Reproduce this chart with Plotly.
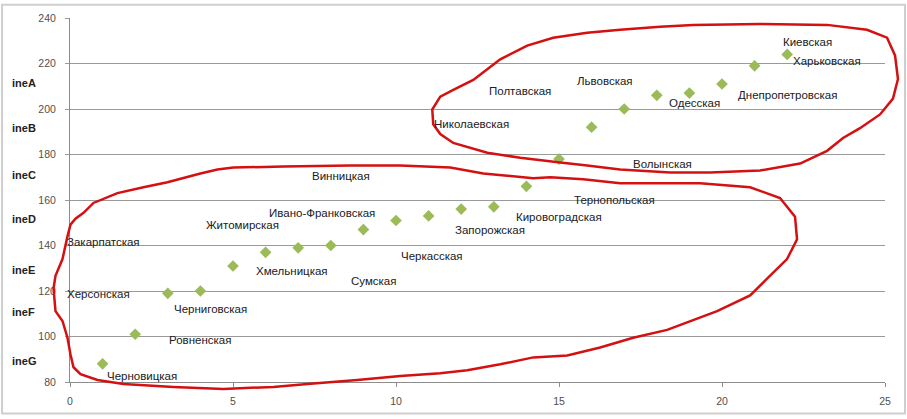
import plotly.graph_objects as go

# ---- data ----
x_idx = list(range(1, 23))
values = [88, 101, 119, 120, 131, 137, 139, 140, 147, 151, 153, 156, 157, 166, 178,
          192, 200, 206, 207, 211, 219, 224]
regions = ["Черновицкая", "Ровненская", "Херсонская", "Черниговская", "Закарпатская",
           "Хмельницкая", "Житомирская", "Сумская", "Ивано-Франковская", "Черкасская",
           "Запорожская", "Винницкая", "Кировоградская", "Тернопольская", "Волынская",
           "Николаевская", "Полтавская", "Львовская", "Одесская", "Днепропетровская",
           "Киевская", "Харьковская"]
# label placement (data coordinates) – as positioned in the original chart
label_x = [2.22, 4.00, 0.87, 4.31, 1.03, 6.82, 5.29, 9.33, 7.74, 11.11,
           12.89, 8.32, 15.01, 16.69, 18.19, 12.31, 13.81, 16.42, 19.17, 22.03,
           22.61, 23.22]
label_y = [82.6, 98.6, 118.5, 112.0, 141.4, 128.9, 148.8, 124.5, 154.4, 135.4,
           146.6, 170.4, 152.6, 160.0, 176.0, 193.3, 208.0, 212.3, 202.8, 206.3,
           229.6, 221.0]
side_labels = ["ineA", "ineB", "ineC", "ineD", "ineE", "ineF", "ineG"]
side_label_py = [81, 127, 175, 219, 271, 314, 364]

x_ticks = [0, 5, 10, 15, 20, 25]
y_ticks = [80, 100, 120, 140, 160, 180, 200, 220, 240]

W, H = 907, 419
L, R, T, B = 69.5, 885, 15, 385


def px2paper(px, py):
    return (px - L) / (R - L), (B - py) / (B - T)


def path_from_px(pts):
    p = []
    for i, (a, b) in enumerate(pts):
        xx, yy = px2paper(a, b)
        p.append(("M" if i == 0 else "L") + f"{xx:.4f},{yy:.4f}")
    return " ".join(p) + " Z"


upper_loop = [(432, 108), (440, 95), (453, 88), (473, 78), (487, 67), (500, 57),
              (527, 43), (553, 35), (587, 30), (620, 27), (660, 24), (693, 22),
              (760, 21), (827, 22), (867, 27), (887, 35), (895, 53), (898, 77),
              (893, 97), (880, 113), (860, 127), (843, 137), (827, 150), (800, 163),
              (760, 170), (710, 172), (670, 172), (620, 169), (587, 165), (560, 162),
              (520, 157), (487, 152), (453, 142), (440, 133), (433, 123)]
lower_loop = [(53, 290), (55, 277), (62, 260), (67, 237), (70, 225), (75, 219),
              (83, 213), (93, 203), (117, 193), (143, 187), (167, 182), (200, 173),
              (217, 169), (233, 167), (283, 166), (350, 165), (400, 165), (450, 167),
              (483, 173), (533, 178), (550, 177), (583, 179), (620, 183), (700, 183),
              (750, 187), (780, 198), (795, 217), (797, 240), (787, 260), (767, 280),
              (750, 297), (717, 313), (667, 332), (633, 340), (600, 350), (567, 358),
              (533, 360), (500, 367), (467, 373), (440, 376), (400, 379), (357, 383),
              (307, 387), (273, 390), (223, 392), (173, 390), (123, 387), (97, 383),
              (80, 377), (73, 370), (70, 357), (67, 340), (62, 323), (55, 313)]

fig = go.Figure()
fig.add_trace(go.Scatter(
    x=x_idx, y=values, mode="markers",
    marker=dict(symbol="diamond", size=9, color="#9BBB59"),
    text=regions, hoverinfo="text", showlegend=False, cliponaxis=False))

annotations = []
for lx, ly, name in zip(label_x, label_y, regions):
    annotations.append(dict(x=lx, y=ly, xref="x", yref="y", text=name,
                            showarrow=False, xanchor="center", yanchor="middle",
                            font=dict(family="Liberation Sans, Arial", size=11.5,
                                      color="#202020")))
for t, py in zip(side_labels, side_label_py):
    xx, yy = px2paper(9, py)
    annotations.append(dict(x=xx, y=yy, xref="paper", yref="paper",
                            text=f"<b>{t}</b>", showarrow=False,
                            xanchor="left", yanchor="middle",
                            font=dict(family="Liberation Sans, Arial", size=11,
                                      color="#222222")))

shapes = []
fx0, fy0 = px2paper(1.5, 417)
fx1, fy1 = px2paper(905, 1.5)
shapes.append(dict(type="rect", xref="paper", yref="paper", x0=fx0, y0=fy0,
                   x1=fx1, y1=fy1, line=dict(color="#cfcfcf", width=2), layer="below"))
for loop in (upper_loop, lower_loop):
    shapes.append(dict(type="path", xref="paper", yref="paper",
                       path=path_from_px(loop),
                       line=dict(color="#d41010", width=2.5), layer="above"))

fig.update_layout(
    width=W, height=H, autosize=False,
    margin=dict(l=L, r=W - R, t=T, b=H - B, pad=0),
    paper_bgcolor="white", plot_bgcolor="white",
    font=dict(family="Liberation Sans, Arial", size=10, color="#555555"),
    xaxis=dict(range=[0, 25], tickvals=x_ticks, showgrid=False, zeroline=False,
               showline=True, linecolor="#8c8c8c", linewidth=1,
               ticks="outside", ticklen=4, tickcolor="#8c8c8c",
               ticklabelstandoff=5,
               tickfont=dict(size=10.5, color="#505050")),
    yaxis=dict(range=[80, 240], tickvals=y_ticks, showgrid=True, gridcolor="#9a9a9a",
               gridwidth=1, zeroline=False, showline=True, linecolor="#8c8c8c",
               linewidth=1, ticks="outside", ticklen=4, tickcolor="#9a9a9a",
               ticklabelstandoff=7,
               tickfont=dict(size=10.5, color="#505050")),
    annotations=annotations, shapes=shapes, hovermode="closest")

fig.write_html("out.html",
               config={"displayModeBar": False},
               post_script="document.body.style.margin='0';"
                           "document.body.style.overflow='hidden';")
